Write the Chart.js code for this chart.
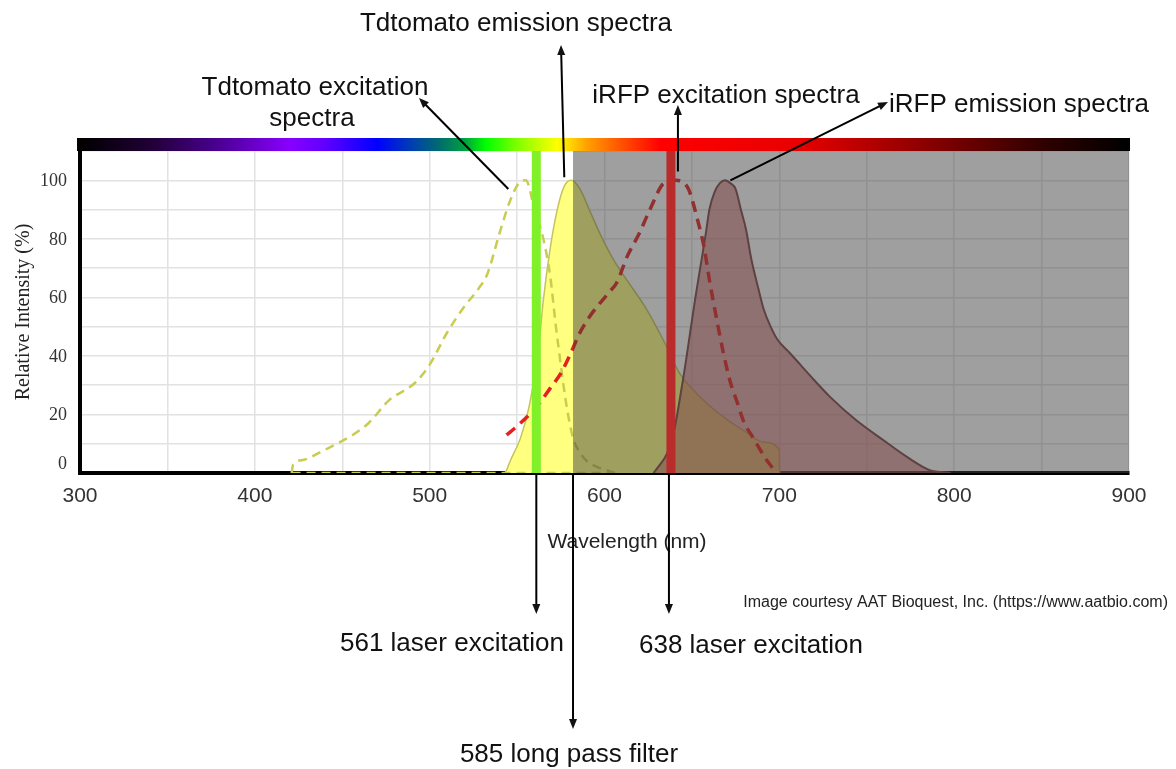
<!DOCTYPE html>
<html>
<head>
<meta charset="utf-8">
<title>Tdtomato / iRFP spectra</title>
<script src="https://cdn.jsdelivr.net/npm/chart.js@4.4.0/dist/chart.umd.min.js"></script>
<style>
  body { margin: 0; background: #fff; }
  canvas { display: block; }
</style>
</head>
<body>
<canvas id="chart" width="1176" height="769"></canvas>
<script>
// wavelength (nm) / relative intensity (%)
var tdExcWl  = [421, 422, 428, 437, 447, 456, 465, 477, 485, 492, 500, 510, 520, 528, 533, 540, 546, 551, 555, 560, 565, 569, 572, 575, 578, 582, 586, 590, 596, 601, 606]
var tdExcVal = [0, 3, 4.5, 7, 10, 13, 17, 25, 28, 31, 37, 48, 57, 63, 68, 82, 93, 99, 100, 90, 80, 67, 51, 37, 24, 12, 7, 4, 2, 1, 0]
var tdExcBaseWl  = [421, 606]
var tdExcBaseVal = [0, 0]

var tdEmWl  = [543, 544, 546, 552, 557, 562, 565, 569, 573, 577, 581, 586, 592, 598, 606, 615, 624, 634, 643, 653, 662, 672, 681, 691, 700, 700.1]
var tdEmVal = [0, 1, 4, 12, 23, 41, 59, 77, 90, 98, 100, 97, 89, 81, 72, 64, 56, 45, 34, 27, 22, 17.5, 14, 10.5, 8, 0]

var irfpExcWl  = [544, 550, 557, 563, 569, 575, 580, 586, 591, 596, 603, 607, 613, 620, 626, 634, 641, 648, 653, 657, 660, 664, 668, 672, 676, 680, 684, 688, 692, 697, 698]
var irfpExcVal = [13, 16, 20, 24, 29, 34, 40, 48, 53, 57, 62, 65, 74, 82, 90, 99, 100, 97, 87, 77, 66, 53, 41, 31, 24, 17, 13, 9, 5, 1, 0]

var irfpEmWl  = [628, 630, 636, 640, 643, 646, 649, 652, 655, 658, 660, 663, 666, 669, 672, 675, 678, 681, 684, 688, 691, 695, 699, 706, 712, 718, 729, 744, 760, 773, 786, 798]
var irfpEmVal = [0, 1.5, 7, 15, 25, 36, 48, 60, 71, 82, 90, 96, 99, 100, 99, 97, 90, 83, 73, 63, 56, 50, 45.5, 41, 37, 33, 26, 18, 11, 5.5, 1, 0]

var laser561 = 561
var laser638 = 638
var filterStart = 582
var filterEnd = 900

var yTicks = [0, 20, 40, 60, 80, 100]

var spectrumWl = [300, 340, 380, 420, 440, 470, 490, 505, 520, 532, 550, 573, 590, 610, 632, 710, 780, 850, 900]
var spectrumColors = ['#000000', '#200035', '#4c0095', '#8800ff', '#6000ff', '#0000ff', '#0040b0', '#006a70', '#00a040', '#00ff00', '#80ff00', '#ffff00', '#ffa000', '#ff5000', '#ff0000', '#e80000', '#900000', '#300000', '#000000']

function pts(xs, ys) {
    return xs.map(function (x, i) { return { x: x, y: ys[i] } })
}

var sans = "'Liberation Sans', Arial, sans-serif"
var serif = "'Liberation Serif', 'Times New Roman', serif"

function arrow(ctx, x1, y1, x2, y2) {
    var ang = Math.atan2(y2 - y1, x2 - x1), L = 10, W = 4
    var c = Math.cos(ang), s = Math.sin(ang)
    ctx.beginPath()
    ctx.moveTo(x1, y1)
    ctx.lineTo(x2 - c * L * 0.7, y2 - s * L * 0.7)
    ctx.stroke()
    ctx.beginPath()
    ctx.moveTo(x2, y2)
    ctx.lineTo(x2 - L * c + W * s, y2 - L * s - W * c)
    ctx.lineTo(x2 - L * c - W * s, y2 - L * s + W * c)
    ctx.closePath()
    ctx.fill()
}

var decor = {
    id: 'decor',
    afterDraw: function (chart) {
        var ctx = chart.ctx, a = chart.chartArea
        var xs = chart.scales.x, ys = chart.scales.y
        var px = function (v) { return xs.getPixelForValue(v) }
        var py = function (v) { return ys.getPixelForValue(v) }
        ctx.save()

        // spectrum bar along the top
        var g = ctx.createLinearGradient(px(300), 0, px(900), 0)
        spectrumWl.forEach(function (w, i) { g.addColorStop((w - 300) / 600, spectrumColors[i]) })
        ctx.fillStyle = g
        ctx.fillRect(a.left - 3, a.top - 13, a.right - a.left + 4, 13)

        // y tick labels (the 0 sits a bit higher in the original)
        ctx.fillStyle = '#333'
        ctx.font = '18px ' + serif
        ctx.textAlign = 'right'
        ctx.textBaseline = 'middle'
        yTicks.forEach(function (v) {
            ctx.fillText(String(v), a.left - 13, py(v) + (v === 0 ? -9 : 1))
        })

        // axis titles
        ctx.save()
        ctx.translate(24, (a.top + a.bottom) / 2)
        ctx.rotate(-Math.PI / 2)
        ctx.textAlign = 'center'
        ctx.font = '20px ' + serif
        ctx.fillStyle = '#222'
        ctx.fillText('Relative Intensity (%)', 0, 0)
        ctx.restore()

        ctx.fillStyle = '#222'
        ctx.textBaseline = 'alphabetic'
        ctx.textAlign = 'center'
        ctx.font = '21px ' + sans
        ctx.fillText('Wavelength (nm)', 627, 548)

        ctx.textAlign = 'right'
        ctx.font = '16px ' + sans
        ctx.fillText('Image courtesy AAT Bioquest, Inc. (https://www.aatbio.com)', 1168, 607)

        // annotations
        ctx.fillStyle = '#111'
        ctx.strokeStyle = '#000'
        ctx.lineWidth = 2
        ctx.font = '26px ' + sans
        ctx.textAlign = 'center'
        ctx.fillText('Tdtomato emission spectra', 516, 31)
        ctx.fillText('Tdtomato excitation', 315, 95)
        ctx.fillText('spectra', 312, 126)
        ctx.fillText('iRFP excitation spectra', 726, 103)
        ctx.textAlign = 'left'
        ctx.fillText('iRFP emission spectra', 889, 112)
        ctx.textAlign = 'center'
        ctx.fillText('561 laser excitation', 452, 651)
        ctx.fillText('638 laser excitation', 751, 653)
        ctx.fillText('585 long pass filter', 569, 762)

        arrow(ctx, px(545), py(97), 419, 98)
        arrow(ctx, px(577), py(101), 561, 45)
        arrow(ctx, px(642), py(103), px(642), 105)
        arrow(ctx, px(672), py(100), 888, 102)
        arrow(ctx, px(laser561), a.bottom + 2, px(laser561), 614)
        arrow(ctx, px(laser638) - 2, a.bottom + 2, px(laser638) - 2, 614)
        arrow(ctx, px(filterStart), a.bottom + 2, px(filterStart), 729)

        ctx.restore()
    }
}

var gridColor = '#e2e2e2'

new Chart(document.getElementById('chart'), {
    type: 'line',
    data: {
        datasets: [
            {
                label: '561 laser', data: pts([laser561, laser561], [0, 110]),
                borderColor: 'rgb(128,240,40)', borderWidth: 9, pointRadius: 0, fill: false, order: 0
            },
            {
                label: '638 laser', data: pts([laser638, laser638], [0, 110]),
                borderColor: 'rgb(186,44,44)', borderWidth: 9, pointRadius: 0, fill: false, order: 0
            },
            {
                label: '585 long pass', data: pts([filterStart, filterEnd], [110, 110]),
                borderWidth: 0, pointRadius: 0, fill: 'origin',
                backgroundColor: 'rgba(64,64,64,0.5)', order: 1
            },
            {
                label: 'iRFP excitation', data: pts(irfpExcWl, irfpExcVal),
                borderColor: 'rgb(228,32,32)', borderWidth: 3.5, borderDash: [11, 7],
                pointRadius: 0, fill: false, cubicInterpolationMode: 'monotone', order: 2
            },
            {
                label: 'Tdtomato excitation', data: pts(tdExcWl, tdExcVal),
                borderColor: 'rgb(200,204,80)', borderWidth: 2.5, borderDash: [9, 6],
                pointRadius: 0, fill: false, cubicInterpolationMode: 'monotone', order: 3
            },
            {
                label: 'Tdtomato excitation base', data: pts(tdExcBaseWl, tdExcBaseVal),
                borderColor: 'rgb(200,204,80)', borderWidth: 2.5, borderDash: [9, 6],
                pointRadius: 0, fill: false, order: 3
            },
            {
                label: 'iRFP emission', data: pts(irfpEmWl, irfpEmVal),
                borderColor: 'rgb(125,66,66)', borderWidth: 2,
                backgroundColor: 'rgba(200,90,90,0.55)',
                pointRadius: 0, fill: 'origin', cubicInterpolationMode: 'monotone', order: 4
            },
            {
                label: 'Tdtomato emission', data: pts(tdEmWl, tdEmVal),
                borderColor: 'rgb(196,196,90)', borderWidth: 1.5,
                backgroundColor: 'rgb(255,255,128)',
                pointRadius: 0, fill: 'origin', cubicInterpolationMode: 'monotone', order: 5
            }
        ]
    },
    options: {
        responsive: false,
        animation: false,
        devicePixelRatio: 1,
        layout: { padding: { left: 0, right: 47, top: 151, bottom: 256 } },
        plugins: { legend: { display: false }, tooltip: { enabled: false } },
        scales: {
            x: {
                type: 'linear', min: 300, max: 900,
                afterFit: function (s) { s.height = 40 },
                ticks: {
                    stepSize: 50, autoSkip: false, maxRotation: 0, padding: 11,
                    color: '#333', font: { family: sans, size: 21 },
                    callback: function (v) { return v % 100 === 0 ? v : '' }
                },
                grid: { color: gridColor, lineWidth: 1.5, drawTicks: false },
                border: { color: '#000', width: 4 }
            },
            y: {
                min: 0, max: 110,
                afterFit: function (s) { s.width = 80 },
                ticks: { stepSize: 10, display: false },
                grid: { color: gridColor, lineWidth: 1.5, drawTicks: false },
                border: { color: '#000', width: 4 }
            }
        }
    },
    plugins: [decor]
})
</script>
</body>
</html>
